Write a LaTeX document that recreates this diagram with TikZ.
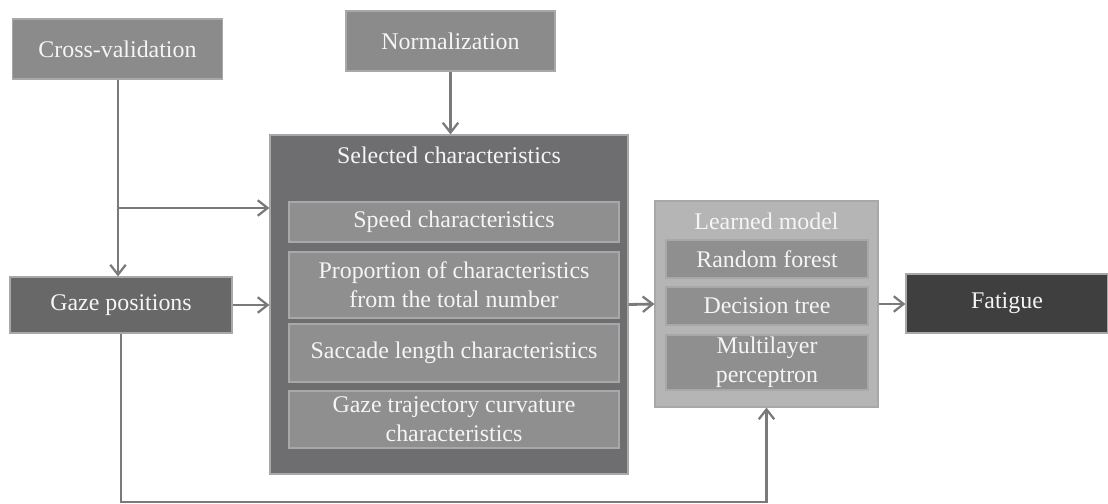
\documentclass[tikz,border=0pt]{standalone}
\usepackage{fontspec}
\setmainfont{Liberation Serif}
\newfontfamily\boxfont{Liberation Serif}
\usetikzlibrary{arrows.meta}

\definecolor{midgray}{HTML}{8B8B8B}
\definecolor{selgray}{HTML}{6E6E70}
\definecolor{itemgray}{HTML}{8F8F8F}
\definecolor{modelgray}{HTML}{B5B5B5}
\definecolor{gazegray}{HTML}{686868}
\definecolor{fatgray}{HTML}{3F3F3F}
\definecolor{edgegray}{HTML}{A8A8A8}
\definecolor{linegray}{HTML}{7A7A7A}

\tikzset{
  box/.style={draw=edgegray, line width=0.8pt, fill=#1, text=white!96!black,
    inner sep=0pt, align=center, font=\boxfont\fontsize{17}{20.6}\selectfont},
  title/.style={text=white!96!black, font=\boxfont\fontsize{17}{20.6}\selectfont},
  link/.style={draw=linegray, line width=2pt,
    -{Straight Barb[length=7pt,width=11pt,line width=1.6pt]}},
}

\begin{document}
\begin{tikzpicture}[x=0.025cm, y=-0.025cm]
  \useasboundingbox (0,0) rectangle (1108,504);

  % inputs
  \node[box=midgray, minimum width=5.25cm, minimum height=1.5cm] (cross) at (117.5,49) {Cross-validation};
  \node[box=midgray, minimum width=5.225cm, minimum height=1.5cm] (norm) at (450.5,41) {Normalization};
  \node[box=gazegray, minimum width=5.55cm, minimum height=1.4cm] (gaze) at (121,305) {Gaze positions};

  % selected characteristics
  \node[box=selgray, minimum width=8.95cm, minimum height=8.475cm] (sel) at (449,304.5) {};
  \node[title] (seltitle) at (449,155) {Selected characteristics};
  \node[box=itemgray, minimum width=8.25cm, minimum height=1cm] (speed) at (454,222) {Speed characteristics};
  \node[box=itemgray, minimum width=8.25cm, minimum height=1.65cm] (prop) at (454,285) {Proportion of characteristics\\from the total number};
  \node[box=itemgray, minimum width=8.25cm, minimum height=1.45cm] (sacc) at (454,353) {Saccade length characteristics};
  \node[box=itemgray, minimum width=8.25cm, minimum height=1.425cm] (traj) at (454,419.5) {Gaze trajectory curvature\\characteristics};

  % learned model
  \node[box=modelgray, minimum width=5.575cm, minimum height=5.15cm] (learn) at (766.5,304) {};
  \node[title] (learntitle) at (766.5,221) {Learned model};
  \node[box=itemgray, minimum width=5.05cm, minimum height=0.95cm] (rf) at (767,259) {Random forest};
  \node[box=itemgray, minimum width=5.05cm, minimum height=0.95cm] (dt) at (767,306) {Decision tree};
  \node[box=itemgray, minimum width=5.05cm, minimum height=1.375cm] (mlp) at (767,362.5) {Multilayer\\perceptron};

  \node[box=fatgray, minimum width=5.05cm, minimum height=1.475cm] (fat) at (1007,303.5) {Fatigue};

  % connectors
  \coordinate (split) at (118,208);
  \coordinate (low) at (0,502);
  \draw[link] (cross.south -| split) -- (split |- gaze.north);
  \draw[link] (split) -- (split -| sel.west);
  \draw[link] (gaze.east) -- (sel.west |- gaze.east);
  \draw[link] (norm.south) -- (norm.south |- sel.north);
  \draw[link] (sel.east) -- (learn.west);
  \draw[link] (learn.east) -- (learn.east -| fat.west);
  \draw[link] (gaze.south) -- (gaze.south |- low) -| (learn.south);
\end{tikzpicture}
\end{document}
